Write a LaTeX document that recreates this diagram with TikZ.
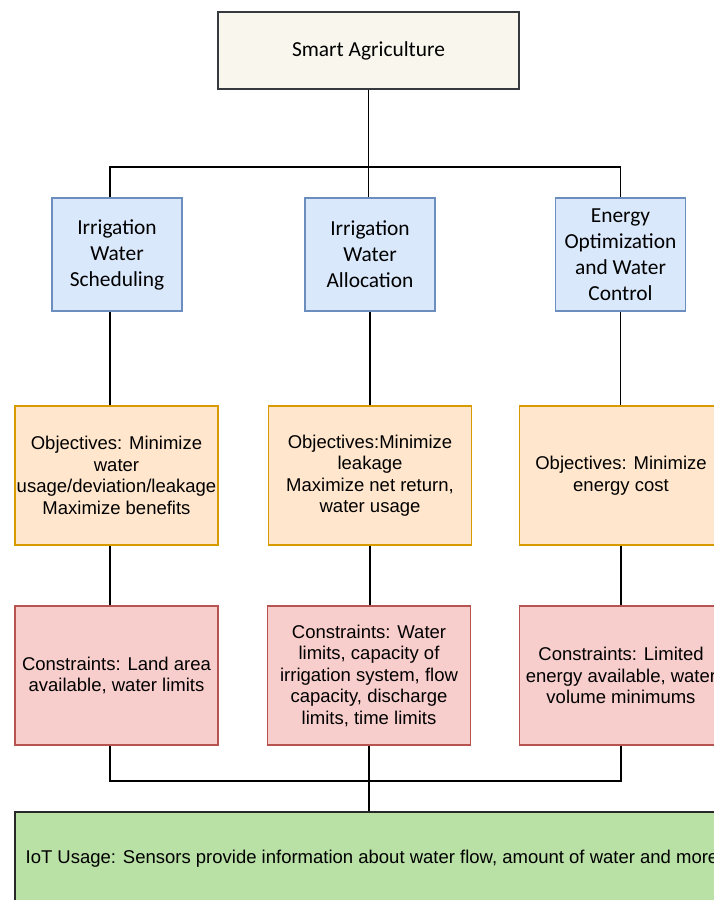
\documentclass[tikz,border=0pt]{standalone}
\usepackage{fontspec}
\setmainfont{Liberation Sans}
\newfontfamily\calfont{Carlito}
\usetikzlibrary{positioning}
\definecolor{rootcol}{RGB}{249, 247, 237}
\definecolor{rootline}{RGB}{54, 57, 61}
\definecolor{areacol}{RGB}{218, 232, 252}
\definecolor{arealine}{RGB}{108, 142, 191}
\definecolor{goalcol}{RGB}{255, 230, 204}
\definecolor{goalline}{RGB}{215, 155, 0}
\definecolor{limitcol}{RGB}{248, 206, 204}
\definecolor{limitline}{RGB}{184, 84, 80}
\definecolor{iotcol}{RGB}{185, 224, 165}
\definecolor{iotline}{RGB}{40, 40, 40}

\begin{document}
\begin{tikzpicture}[
    x=1pt, y=-1pt,
    box/.style = {rectangle, draw, line width=1.2pt, align=center, inner sep=1pt,
                  font=\fontsize{18.5pt}{21.5pt}\selectfont},
    root/.style = {box, fill=rootcol, draw=rootline, minimum width=301pt, minimum height=77pt,
                   font=\calfont\fontsize{21.4pt}{26pt}\selectfont},
    area/.style = {box, fill=areacol, draw=arealine, minimum width=130pt, minimum height=113pt,
                   font=\calfont\fontsize{21.4pt}{26pt}\selectfont},
    goal/.style = {box, fill=goalcol, draw=goalline, minimum width=203pt, minimum height=139pt},
    limit/.style = {box, fill=limitcol, draw=limitline, minimum width=203pt, minimum height=139pt},
    iot/.style = {box, fill=iotcol, draw=iotline, minimum width=714pt, minimum height=93pt},
    link/.style = {line width=1.3pt, black}
]
    \useasboundingbox (0,0) rectangle (713,900);

    % ROOT
    \node[root] (root) at (368.5,50.5) {Smart Agriculture};

    % AREAS
    \node[area] (sched) at (117,254.5) {Irrigation\\Water\\Scheduling};
    \node[area] (alloc) at (370,254.5) {Irrigation\\Water\\Allocation};
    \node[area] (energy) at (620.5,254.5) {Energy\\Optimization\\and Water\\Control};

    % OBJECTIVES
    \node[goal] (obj_sched) at (116.5,475.5) {Objectives: Minimize\\water\\usage/deviation/leakage\\Maximize benefits};
    \node[goal] (obj_alloc) at (370,475.5) {Objectives:Minimize\\leakage\\Maximize net return,\\water usage};
    \node[goal] (obj_energy) at (621,475.5) {Objectives: Minimize\\energy cost};

    % CONSTRAINTS
    \node[limit] (lim_sched) at (116.5,675.5) {Constraints: Land area\\available, water limits};
    \node[limit] (lim_alloc) at (369,675.5) {Constraints: Water\\limits, capacity of\\irrigation system, flow\\capacity, discharge\\limits, time limits};
    \node[limit] (lim_energy) at (621,675.5) {Constraints: Limited\\energy available, water\\volume minimums};

    % IOT
    \node[iot] (iot) at (372,858.5) {IoT Usage: Sensors provide information about water flow, amount of water and more};

    % CONNECTORS
    \coordinate (split_left) at (110,167);
    \coordinate (join_left) at (110,781);

    \draw[link] (root.south) -- (root.south |- alloc.north);
    \draw[link] (split_left |- sched.north) -- (split_left) -- (split_left -| energy.north) -- (energy.north);

    \draw[link] (split_left |- sched.south) -- (split_left |- obj_sched.north);
    \draw[link] (alloc.south) -- (alloc.south |- obj_alloc.north);
    \draw[link] (energy.south) -- (energy.south |- obj_energy.north);

    \draw[link] (split_left |- obj_sched.south) -- (split_left |- lim_sched.north);
    \draw[link] (obj_alloc.south) -- (obj_alloc.south |- lim_alloc.north);
    \draw[link] (obj_energy.south) -- (obj_energy.south |- lim_energy.north);

    \draw[link] (join_left |- lim_sched.south) -- (join_left) -- (join_left -| lim_energy.south) -- (lim_energy.south);
    \draw[link] (lim_alloc.south) -- (lim_alloc.south |- iot.north);

\end{tikzpicture}
\end{document}
